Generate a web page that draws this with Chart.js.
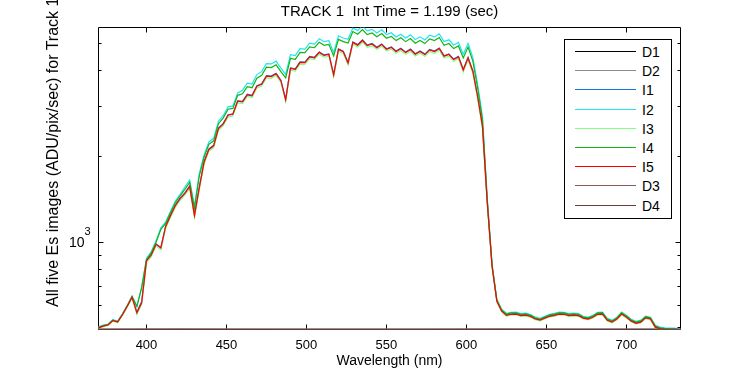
<!DOCTYPE html>
<html>
<head>
<meta charset="utf-8">
<title>TRACK 1 Es images</title>
<script src="https://cdn.jsdelivr.net/npm/chart.js@4.4.1/dist/chart.umd.min.js"></script>
<style>
  html, body { margin: 0; padding: 0; background: #fff; }
  #wrap { position: relative; width: 750px; height: 375px; overflow: hidden; font-family: "Liberation Sans", Arial, sans-serif; }
  #ylabel {
    position: absolute; left: 45px; top: 307px;
    transform-origin: 0 0; transform: rotate(-90deg);
    font-size: 16px; line-height: 16px; white-space: nowrap; color: #000;
  }
  #legend {
    position: absolute; left: 564px; top: 39px; width: 108px; height: 180px;
    box-sizing: border-box; border: 1px solid #000; background: #fff;
    font-size: 14px; color: #000;
  }
  #legend .row { position: absolute; left: 0; height: 19px; display: flex; align-items: center; }
  #legend .sample { display: inline-block; width: 61px; height: 1px; margin-left: 10px; margin-right: 6px; }
</style>
</head>
<body>
<div id="wrap">
  <canvas id="esChart" width="750" height="375"></canvas>
  <div id="ylabel">All five Es images (ADU/pix/sec) for Track 1</div>
  <div id="legend"></div>
</div>
<script>
// wavelength grid (nm) for the five illuminated images
var wavelength = [
  370, 373, 376, 379, 382, 385, 388, 391, 394, 397,
  400, 403, 406, 409, 412, 415, 418, 421, 424, 427,
  430, 433, 436, 439, 442, 445, 448, 451, 454, 457,
  460, 463, 466, 469, 472, 475, 478, 481, 484, 487,
  490, 493, 496, 499, 502, 505, 508, 511, 514, 517,
  520, 523, 526, 529, 532, 535, 538, 541, 544, 547,
  550, 553, 556, 559, 562, 565, 568, 571, 574, 577,
  580, 583, 586, 589, 592, 595, 598, 601, 604, 607,
  610, 613, 616, 619, 622, 625, 628, 631, 634, 637,
  640, 643, 646, 649, 652, 655, 658, 661, 664, 667,
  670, 673, 676, 679, 682, 685, 688, 691, 694, 697,
  700, 703, 706, 709, 712, 715, 718, 721, 724, 727,
  730, 733
];

var i1 = [
  500, 507, 512, 530, 524, 556, 595, 640, 566, 616,
  859, 902, 983, 955, 1135, 1238, 1343, 1422, 1485, 1568,
  1240, 1552, 1909, 2117, 2181, 2505, 2605, 2793, 2813, 3126,
  3112, 3295, 3269, 3530, 3587, 3829, 3817, 3905, 3693, 3165,
  4076, 4048, 4282, 4271, 4477, 4445, 4642, 4531, 4567, 3870,
  4754, 4670, 4262, 5029, 4923, 5113, 4906, 4969, 4824, 4951,
  4763, 4834, 4675, 4779, 4634, 4751, 4574, 4676, 4561, 4737,
  4675, 4792, 4501, 4565, 4380, 4476, 4030, 4435, 3978, 3236,
  2552, 1379, 823, 620, 572, 553, 558, 559, 552, 554,
  548, 537, 532, 541, 549, 553, 559, 558, 552, 554,
  552, 541, 537, 545, 558, 559, 532, 524, 537, 559,
  545, 528, 519, 524, 542, 537, 503, 496, 494, 493,
  493, 491
];

var i2 = [
  502, 509, 514, 532, 526, 558, 598, 644, 594, 693,
  875, 924, 1007, 1118, 1174, 1278, 1386, 1468, 1557, 1646,
  1336, 1734, 2019, 2241, 2308, 2650, 2777, 2977, 2999, 3333,
  3406, 3607, 3579, 3864, 3957, 4224, 4211, 4308, 4074, 3873,
  4536, 4504, 4764, 4752, 4982, 4946, 5165, 5042, 5082, 4625,
  5290, 5196, 5140, 5639, 5519, 5732, 5501, 5572, 5409, 5550,
  5342, 5420, 5241, 5358, 5196, 5327, 5129, 5243, 5113, 5310,
  5241, 5373, 5047, 5119, 4909, 5018, 4553, 4972, 4436, 3570,
  2756, 1429, 833, 628, 579, 560, 565, 566, 559, 561,
  555, 543, 538, 547, 556, 560, 566, 565, 559, 561,
  559, 547, 543, 551, 565, 566, 538, 530, 543, 566,
  551, 534, 525, 530, 548, 543, 509, 501, 498, 497,
  497, 494
];

var i3 = [
  496, 503, 508, 526, 520, 552, 590, 635, 556, 603,
  845, 886, 965, 938, 1115, 1216, 1320, 1396, 1457, 1540,
  1218, 1523, 1874, 2080, 2141, 2460, 2558, 2742, 2763, 3070,
  3055, 3236, 3211, 3466, 3522, 3760, 3749, 3835, 3626, 3106,
  4004, 3976, 4206, 4195, 4397, 4365, 4559, 4450, 4485, 3796,
  4668, 4586, 4184, 4939, 4834, 5021, 4818, 4881, 4738, 4862,
  4679, 4747, 4591, 4692, 4551, 4665, 4492, 4592, 4480, 4652,
  4591, 4707, 4421, 4483, 4301, 4396, 3954, 4356, 3907, 3178,
  2506, 1354, 816, 615, 567, 548, 553, 554, 547, 549,
  543, 532, 527, 536, 544, 548, 554, 553, 547, 549,
  547, 536, 532, 540, 553, 554, 527, 519, 532, 554,
  540, 523, 514, 519, 537, 532, 498, 492, 490, 489,
  489, 487
];

var i4 = [
  500, 507, 512, 530, 524, 556, 596, 641, 592, 690,
  865, 913, 995, 1105, 1159, 1263, 1370, 1450, 1527, 1614,
  1310, 1700, 1980, 2197, 2262, 2598, 2723, 2919, 2940, 3267,
  3307, 3502, 3475, 3752, 3842, 4101, 4089, 4182, 3955, 3760,
  4404, 4373, 4626, 4613, 4836, 4802, 5015, 4895, 4934, 4490,
  5136, 5044, 4990, 5474, 5358, 5565, 5341, 5410, 5252, 5388,
  5186, 5262, 5089, 5202, 5044, 5171, 4979, 5090, 4965, 5156,
  5089, 5217, 4900, 4969, 4767, 4872, 4420, 4828, 4307, 3466,
  2676, 1401, 828, 624, 576, 557, 562, 563, 556, 558,
  552, 540, 535, 544, 553, 557, 563, 562, 556, 558,
  556, 544, 540, 548, 562, 563, 535, 527, 540, 563,
  548, 531, 522, 527, 545, 540, 506, 498, 495, 494,
  494, 491
];

var i5 = [
  498, 505, 510, 528, 522, 554, 593, 638, 562, 610,
  856, 898, 979, 951, 1131, 1233, 1338, 1416, 1479, 1562,
  1235, 1545, 1901, 2109, 2172, 2495, 2595, 2782, 2802, 3114,
  3099, 3281, 3256, 3516, 3573, 3814, 3803, 3889, 3678, 3150,
  4060, 4033, 4265, 4254, 4459, 4427, 4624, 4513, 4549, 3850,
  4735, 4651, 4243, 5009, 4903, 5092, 4887, 4950, 4805, 4931,
  4745, 4815, 4656, 4759, 4615, 4732, 4556, 4658, 4543, 4718,
  4656, 4773, 4484, 4547, 4362, 4458, 4010, 4418, 3962, 3223,
  2542, 1373, 820, 618, 570, 551, 556, 557, 550, 552,
  546, 535, 530, 539, 547, 551, 557, 556, 550, 552,
  550, 539, 535, 543, 556, 557, 530, 522, 535, 557,
  543, 526, 517, 522, 540, 535, 501, 494, 492, 491,
  491, 489
];

// dark images, coarser sampling
var darkWavelength = [370, 420, 470, 520, 570, 620, 670, 720, 734];
var d1 = [488, 488, 487, 488, 488, 487, 488, 488, 487];
var d2 = [493.4, 493.0, 493.6, 493.1, 493.3, 493.0, 493.4, 493.2, 493.1];
var d3 = [492.6, 492.7, 492.6, 492.5, 492.6, 492.7, 492.6, 492.6, 492.5];
var d4 = [492.3, 492.3, 492.4, 492.3, 492.2, 492.3, 492.3, 492.4, 492.3];

var xTicks = [400, 450, 500, 550, 600, 650, 700];
var yMajorTicks = [1000];
var yMinorTicks = [500, 600, 700, 800, 900, 2000, 3000, 4000, 5000];

function pts(xs, ys) {
    return xs.map(function (x, i) { return { x: x, y: ys[i] }; });
}

function series(label, xs, ys, color, order) {
    return {
        label: label,
        data: pts(xs, ys),
        borderColor: color,
        backgroundColor: color,
        borderWidth: 1.2,
        pointRadius: 0,
        tension: 0,
        fill: false,
        order: order
    };
}

// inward tick marks, box and the 10^3 label, MATLAB style
var framePlugin = {
    id: 'frame',
    beforeDatasetsDraw: function (chart) {
        var ctx = chart.ctx, a = chart.chartArea;
        var xs = chart.scales.x, ys = chart.scales.y;
        var L = a.left + 0.5, R = a.right - 0.5, T = a.top, B = a.bottom;
        ctx.save();
        ctx.strokeStyle = '#000';
        ctx.lineWidth = 1;
        ctx.beginPath();
        ctx.rect(L, T, R - L, B - T);
        xTicks.forEach(function (v) {
            var px = Math.round(xs.getPixelForValue(v)) + 0.5;
            ctx.moveTo(px, B); ctx.lineTo(px, B - 5);
            ctx.moveTo(px, T); ctx.lineTo(px, T + 5);
        });
        yMinorTicks.forEach(function (v) {
            var py = Math.round(ys.getPixelForValue(v)) + 0.5;
            ctx.moveTo(L, py); ctx.lineTo(L + 3, py);
            ctx.moveTo(R, py); ctx.lineTo(R - 3, py);
        });
        yMajorTicks.forEach(function (v) {
            var py = Math.round(ys.getPixelForValue(v)) + 0.5;
            ctx.moveTo(L, py); ctx.lineTo(L + 5, py);
            ctx.moveTo(R, py); ctx.lineTo(R - 5, py);
        });
        ctx.stroke();

        ctx.fillStyle = '#000';
        ctx.textBaseline = 'middle';
        yMajorTicks.forEach(function (v) {
            var py = ys.getPixelForValue(v);
            ctx.font = '14px "Liberation Sans", Arial, sans-serif';
            ctx.textAlign = 'right';
            ctx.fillText('10', 84.5, py + 1);
            ctx.font = '11px "Liberation Sans", Arial, sans-serif';
            ctx.textAlign = 'left';
            ctx.fillText(String(Math.round(Math.log10(v))), 84.5, py - 9.5);
        });
        ctx.restore();
    }
};

Chart.defaults.font.family = '"Liberation Sans", Arial, sans-serif';
Chart.defaults.color = '#000';

var ctx = document.getElementById('esChart').getContext('2d');

var esChart = new Chart(ctx, {
    type: 'line',
    data: {
        datasets: [
            series('D1', darkWavelength, d1, '#000000', 9),
            series('D2', darkWavelength, d2, '#8c8c8c', 8),
            series('I1', wavelength, i1, '#0a78e6', 7),
            series('I2', wavelength, i2, '#1ee6f0', 6),
            series('I3', wavelength, i3, '#80ff80', 5),
            series('I4', wavelength, i4, '#14b414', 4),
            series('I5', wavelength, i5, '#ff0000', 3),
            series('D3', darkWavelength, d3, '#8c5a5a', 2),
            series('D4', darkWavelength, d4, '#6e3c3c', 1)
        ]
    },
    options: {
        responsive: false,
        animation: false,
        devicePixelRatio: 1,
        layout: {
            padding: { left: 0, right: 69, top: 0, bottom: 0 }
        },
        plugins: {
            legend: { display: false },
            tooltip: { enabled: false },
            title: {
                display: true,
                fullSize: false,
                text: 'TRACK 1  Int Time = 1.199 (sec)',
                color: '#000',
                font: { size: 15, weight: 'normal' },
                padding: { top: 3, bottom: 6.5 }
            }
        },
        scales: {
            x: {
                type: 'linear',
                min: 369.7,
                max: 734.1,
                grid: { display: false },
                border: { display: false },
                ticks: { font: { size: 13 }, color: '#000', padding: 0, maxRotation: 0, autoSkip: false },
                afterBuildTicks: function (scale) {
                    scale.ticks = xTicks.map(function (v) { return { value: v }; });
                },
                afterFit: function (scale) { scale.height = 45.5; },
                title: {
                    display: true,
                    text: 'Wavelength (nm)',
                    color: '#000',
                    font: { size: 14 },
                    padding: { top: 0, bottom: 5 }
                }
            },
            y: {
                type: 'logarithmic',
                min: 491.6,
                max: 5655,
                grid: { display: false },
                border: { display: false },
                ticks: { display: false },
                afterBuildTicks: function (scale) {
                    scale.ticks = yMinorTicks.concat(yMajorTicks).map(function (v) { return { value: v }; });
                },
                afterFit: function (scale) { scale.width = 98; }
            }
        }
    },
    plugins: [framePlugin]
});

// legend box drawn in HTML, in the dataset order
var legendBox = document.getElementById('legend');
esChart.data.datasets.forEach(function (ds, i) {
    var row = document.createElement('div');
    row.className = 'row';
    row.style.top = Math.round(2 + i * 19.2) + 'px';
    var sample = document.createElement('span');
    sample.className = 'sample';
    sample.style.background = ds.borderColor;
    var text = document.createElement('span');
    text.textContent = ds.label;
    row.appendChild(sample);
    row.appendChild(text);
    legendBox.appendChild(row);
});
</script>
</body>
</html>
